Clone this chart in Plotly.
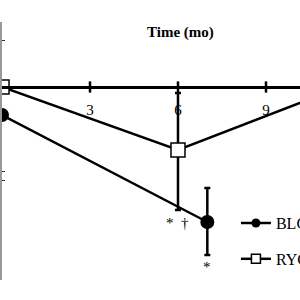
import plotly.graph_objects as go

# Data (arbitrary change units)
months_ryc = [0, 6, 12]
ryc_mean = [0.0, -6.3, 0.5]
ryc_err_up = [None, 5.7, None]
ryc_err_down = [None, 6.0, None]

months_blg = [0, 7]
blg_mean = [-2.8, -13.5]
blg_err_up = [None, 3.4]
blg_err_down = [None, 3.3]

x_ticks = [3, 6, 9]
x_tick_labels = ["3", "6", "9"]
y_ticks = [4.7, -8.4, -9.3]

series_names = ["BLG", "RYGB"]

SERIF = "Liberation Serif, Times New Roman, serif"

fig = go.Figure()

# x-axis tick marks crossing the zero line
fig.add_trace(go.Scatter(
    x=x_ticks, y=[0] * len(x_ticks), mode="markers",
    marker=dict(symbol="line-ns", size=8, line=dict(width=2.5, color="black")),
    showlegend=False, hoverinfo="skip", cliponaxis=False))

fig.add_trace(go.Scatter(
    x=months_ryc, y=ryc_mean, mode="lines+markers",
    line=dict(color="black", width=2.5),
    marker=dict(symbol="square", size=14, color="white", line=dict(color="black", width=1.5)),
    error_y=dict(type="data", array=ryc_err_up, arrayminus=ryc_err_down, symmetric=False,
                 color="black", thickness=2.5, width=3),
    showlegend=False, cliponaxis=False))

fig.add_trace(go.Scatter(
    x=months_blg, y=blg_mean, mode="lines+markers",
    line=dict(color="black", width=2.5),
    marker=dict(symbol="circle", size=14, color="black"),
    error_y=dict(type="data", array=blg_err_up, arrayminus=blg_err_down, symmetric=False,
                 color="black", thickness=2.5, width=3),
    showlegend=False, cliponaxis=False))

# legend entries
fig.add_trace(go.Scatter(
    x=[None], y=[None], mode="lines+markers", name=series_names[0], legendgroup="a",
    line=dict(color="black", width=2.5),
    marker=dict(symbol="circle", size=9, color="black")))
fig.add_trace(go.Scatter(
    x=[None], y=[None], mode="lines+markers", name=series_names[1], legendgroup="b",
    line=dict(color="black", width=2.5),
    marker=dict(symbol="square", size=9, color="white", line=dict(color="black", width=1.5))))

fig.add_annotation(x=6, y=-13.6, text="*  †", showarrow=False,
                   font=dict(family=SERIF, size=15, color="black"))
fig.add_annotation(x=7, y=-18.0, text="*", showarrow=False,
                   font=dict(family=SERIF, size=15, color="black"))
fig.add_annotation(x=0.6, y=0.927, xref="paper", yref="paper", text="<b>Time (mo)</b>",
                   showarrow=False, font=dict(family=SERIF, size=15, color="black"))

fig.update_layout(
    width=300, height=300,
    margin=dict(l=2, r=0, t=0, b=0, autoexpand=False),
    paper_bgcolor="white", plot_bgcolor="white",
    showlegend=True,
    legend=dict(x=0.785, y=0.313, xanchor="left", yanchor="top",
                font=dict(family=SERIF, size=16, color="black"),
                traceorder="grouped", tracegroupgap=12,
                bgcolor="rgba(0,0,0,0)", borderwidth=0),
    xaxis=dict(range=[-0.0001, 10.16], anchor="free", position=0.71,
               showline=True, linecolor="black", linewidth=2.5,
               tickvals=x_ticks, ticktext=x_tick_labels, ticks="",
               ticklabelstandoff=8,
               tickfont=dict(family=SERIF, size=15, color="black"),
               showgrid=False, zeroline=False),
    yaxis=dict(range=[-19.3, 6.5], domain=[20 / 300, 278 / 300],
               showline=True, linecolor="#999999", linewidth=1.5,
               tickvals=y_ticks, ticks="inside", ticklen=3, tickcolor="#333333",
               showticklabels=False, showgrid=False, zeroline=False),
)

fig.write_html("out.html")
